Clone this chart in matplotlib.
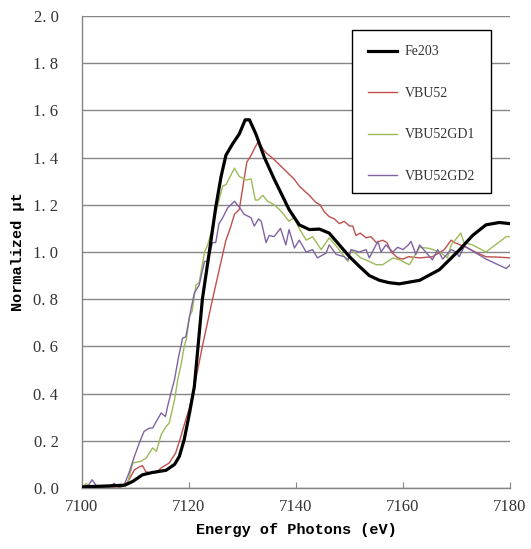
import matplotlib
matplotlib.use("Agg")
import matplotlib.pyplot as plt
from matplotlib.patches import Rectangle

# ---------------- data ----------------
fe_x = [7100, 7104, 7108, 7109.5, 7111.3, 7113.2, 7115.7, 7117.3, 7118.2, 7119.1, 7120.1, 7121,
        7122.5, 7123.8, 7125, 7126, 7126.9, 7128.2, 7129.4, 7130.5, 7131.3, 7132.5, 7134.1,
        7135.9, 7138.7, 7140.6, 7142.5, 7144.4, 7146.2, 7148.1, 7150, 7151.8, 7153.7, 7155.6,
        7157.4, 7159.3, 7163.1, 7166.8, 7170.6, 7173, 7175.5, 7178, 7180]
fe_y = [0.005, 0.008, 0.012, 0.028, 0.056, 0.066, 0.075, 0.10, 0.134, 0.205, 0.318, 0.43,
        0.80, 1.0, 1.19, 1.32, 1.41, 1.46, 1.50, 1.56, 1.56, 1.50, 1.40,
        1.31, 1.18, 1.115, 1.095, 1.097, 1.08, 1.03, 0.98, 0.94, 0.90, 0.88,
        0.87, 0.865, 0.88, 0.925, 1.01, 1.07, 1.115, 1.125, 1.12]

vbu_x = [7100, 7104, 7106, 7108, 7108.8, 7109.8, 7110.7, 7111.3, 7111.9, 7112.5, 7113.8, 7114.8,
         7116.3, 7117.5, 7118.5, 7119.4, 7120.1, 7121, 7122.5, 7124.4, 7125.7, 7126.9, 7127.7,
         7128.5, 7129.4, 7130.1, 7130.8, 7131.6, 7132.5, 7133, 7133.7, 7134.4, 7135.5, 7136.9,
         7137.8, 7138.7, 7139.6, 7140.6, 7141.5, 7142.5, 7143.7, 7144.5, 7145.3, 7146.2, 7147.2,
         7148.1, 7149, 7150, 7150.6, 7151.2, 7152, 7153.1, 7154, 7155, 7156.2, 7157, 7157.8,
         7159, 7160, 7161, 7163.1, 7165.5, 7167, 7167.7, 7169, 7169.6, 7171.8, 7173.5, 7175.5,
         7178, 7180]
vbu_y = [0.0, 0.0, 0.005, 0.01, 0.035, 0.077, 0.089, 0.095, 0.07, 0.065, 0.064, 0.085,
         0.106, 0.148, 0.22, 0.29, 0.34, 0.43, 0.60, 0.80, 0.93, 1.05, 1.10,
         1.16, 1.18, 1.28, 1.38, 1.41, 1.45, 1.47, 1.44, 1.42, 1.40, 1.37,
         1.35, 1.33, 1.31, 1.28, 1.26, 1.24, 1.21, 1.20, 1.17, 1.15, 1.14,
         1.12, 1.13, 1.11, 1.11, 1.07, 1.08, 1.06, 1.065, 1.04, 1.05, 1.04, 1.00,
         0.975, 0.97, 0.98, 0.975, 0.98, 1.0, 1.01, 1.05, 1.04, 1.02, 1.0, 0.98,
         0.978, 0.975]

gd1_x = [7100, 7100.8, 7101.5, 7103, 7104, 7105, 7106, 7107, 7108, 7108.5, 7109.5, 7110.3,
         7111, 7112, 7113.2, 7113.9, 7114.8, 7115.7, 7116.3, 7117.3, 7117.9, 7118.5, 7119.1,
         7119.5, 7120.1, 7120.6, 7121.3, 7121.9, 7122.9, 7123.5, 7124.1, 7125, 7126.3, 7126.9,
         7127.7, 7128.5, 7129.4, 7130.7, 7131.6, 7132.4, 7132.9, 7133.8, 7134.7, 7135.9, 7136.9,
         7137.5, 7138.7, 7139.6, 7140.6, 7141.9, 7143.1, 7144.7, 7146.2, 7147.8, 7149.7, 7150.3,
         7152.1, 7153.7, 7155, 7156.2, 7158.1, 7159.3, 7161.2, 7163.1, 7165, 7166.8, 7168.3,
         7169, 7170.8, 7171.4, 7173, 7175.5, 7179.3, 7180]
gd1_y = [0.0, 0.02, 0.0, 0.0, 0.005, 0.0, 0.01, 0.0, 0.01, 0.02, 0.106, 0.11,
         0.113, 0.127, 0.17, 0.155, 0.226, 0.26, 0.275, 0.374, 0.46, 0.52, 0.60,
         0.63, 0.727, 0.75, 0.86, 0.87, 1.0, 1.03, 1.08, 1.165, 1.28, 1.285,
         1.32, 1.355, 1.32, 1.305, 1.31, 1.22, 1.22, 1.24, 1.215, 1.20, 1.18,
         1.165, 1.13, 1.145, 1.10, 1.05, 1.065, 1.01, 1.06, 1.017, 0.96, 1.01,
         0.975, 0.96, 0.946, 0.946, 0.975, 0.967, 0.946, 1.02, 1.015, 1.0, 0.975,
         1.03, 1.08, 1.04, 1.03, 1.0, 1.065, 1.065]

gd2_x = [7100, 7101, 7101.9, 7102.8, 7104, 7105, 7106, 7107, 7108, 7108.8, 7109.8, 7110.7,
         7111.6, 7112.6, 7113.2, 7114.1, 7114.8, 7115.6, 7116, 7116.6, 7117.3, 7118, 7118.8,
         7119.4, 7120.3, 7121, 7121.9, 7122.9, 7123.5, 7124.4, 7125, 7125.6, 7126.3, 7127.2,
         7128.5, 7129.4, 7130.3, 7131.6, 7132.2, 7133, 7133.5, 7134.4, 7135, 7135.9, 7137.1,
         7138.1, 7138.7, 7139.7, 7140.6, 7141.9, 7143.1, 7144, 7145.6, 7146.2, 7147.5, 7149,
         7149.7, 7150.3, 7151.8, 7153.1, 7153.7, 7155.3, 7155.9, 7156.8, 7158.1, 7159, 7160,
         7161, 7161.5, 7162.4, 7163.1, 7164.6, 7165.5, 7166.5, 7167.4, 7169, 7169.9, 7170.5,
         7171.5, 7175.5, 7179.3, 7180]
gd2_y = [0.0, 0.005, 0.035, 0.005, 0.0, 0.0, 0.02, 0.0, 0.02, 0.065, 0.134, 0.19,
         0.24, 0.254, 0.254, 0.29, 0.318, 0.303, 0.346, 0.40, 0.46, 0.55, 0.635,
         0.64, 0.75, 0.826, 0.86, 0.96, 0.96, 1.04, 1.04, 1.12, 1.145, 1.186,
         1.215, 1.19, 1.16, 1.145, 1.11, 1.14, 1.13, 1.04, 1.07, 1.065, 1.10,
         1.03, 1.095, 1.017, 1.05, 1.0, 1.01, 0.975, 0.995, 1.03, 0.99, 0.98,
         0.967, 1.01, 1.0, 1.01, 0.975, 1.045, 1.0, 1.03, 1.0, 1.02, 1.01,
         1.03, 1.045, 0.99, 1.03, 0.99, 0.967, 1.01, 0.97, 1.01, 1.0, 0.98,
         1.025, 0.97, 0.93, 0.945]

labels = ["Fe203", "VBU52", "VBU52GD1", "VBU52GD2"]
x_ticks = [7100, 7120, 7140, 7160, 7180]
y_ticks = [0.0, 0.2, 0.4, 0.6, 0.8, 1.0, 1.2, 1.4, 1.6, 1.8, 2.0]
y_tick_labels = ["0. 0", "0. 2", "0. 4", "0. 6", "0. 8", "1. 0", "1. 2", "1. 4", "1. 6", "1. 8", "2. 0"]

# ---------------- plot ----------------
fig = plt.figure(figsize=(5.31, 5.49), dpi=100)
ax = fig.add_axes([0.1544, 0.1111, 0.8061, 0.8598])

grid_c = "#868686"
ax.plot(vbu_x, vbu_y, color="#C0504D", lw=1.0, label=labels[1], zorder=3)
ax.plot(gd1_x, gd1_y, color="#9BBB59", lw=1.0, label=labels[2], zorder=3)
ax.plot(gd2_x, gd2_y, color="#8064A2", lw=1.0, label=labels[3], zorder=3)
ax.plot(fe_x, fe_y, color="black", lw=2.3, label=labels[0], zorder=4,
        solid_joinstyle="round")

ax.set_xlim(7100, 7180)
ax.set_ylim(0, 2.0)
ax.set_xticks(x_ticks)
ax.set_yticks(y_ticks)
ax.set_yticklabels(y_tick_labels)
ax.yaxis.grid(True, color=grid_c, lw=1.0)
ax.set_axisbelow(True)
for s in ["top", "right"]:
    ax.spines[s].set_visible(False)
for s in ["left", "bottom"]:
    ax.spines[s].set_color(grid_c)
    ax.spines[s].set_linewidth(1.0)

ax.tick_params(axis="x", direction="in", length=4, color=grid_c, pad=8)
ax.tick_params(axis="y", length=0, pad=17)
for t in ax.get_xticklabels() + ax.get_yticklabels():
    t.set_fontfamily("Liberation Serif")
    t.set_fontsize(12)
    t.set_color("#333333")

ax.set_xlabel("Energy of Photons (eV)", fontfamily="Liberation Mono", fontweight="bold",
              fontsize=11, labelpad=6)
ax.set_ylabel("Normalized μt", fontfamily="Liberation Mono", fontweight="bold",
              fontsize=11, labelpad=6)

# legend frame (drawn separately so entries can sit as in the reference)
ax.add_patch(Rectangle((0.631, 0.625), 0.325, 0.345, transform=ax.transAxes,
                       facecolor="white", edgecolor="black", lw=1.0, zorder=5,
                       clip_on=False))

handles, labs = ax.get_legend_handles_labels()
order = [3, 0, 1, 2]
leg = ax.legend([handles[i] for i in order], [labs[i] for i in order],
                loc="upper left", bbox_to_anchor=(0.638, 0.964),
                prop=dict(family="Liberation Serif", size=10),
                frameon=False, handlelength=2.1, handletextpad=0.55,
                labelspacing=2.05, borderpad=0.9, borderaxespad=0.0)
leg.set_zorder(6)
for t in leg.get_texts():
    t.set_color("#333333")

fig.savefig("out.png", dpi=100)
